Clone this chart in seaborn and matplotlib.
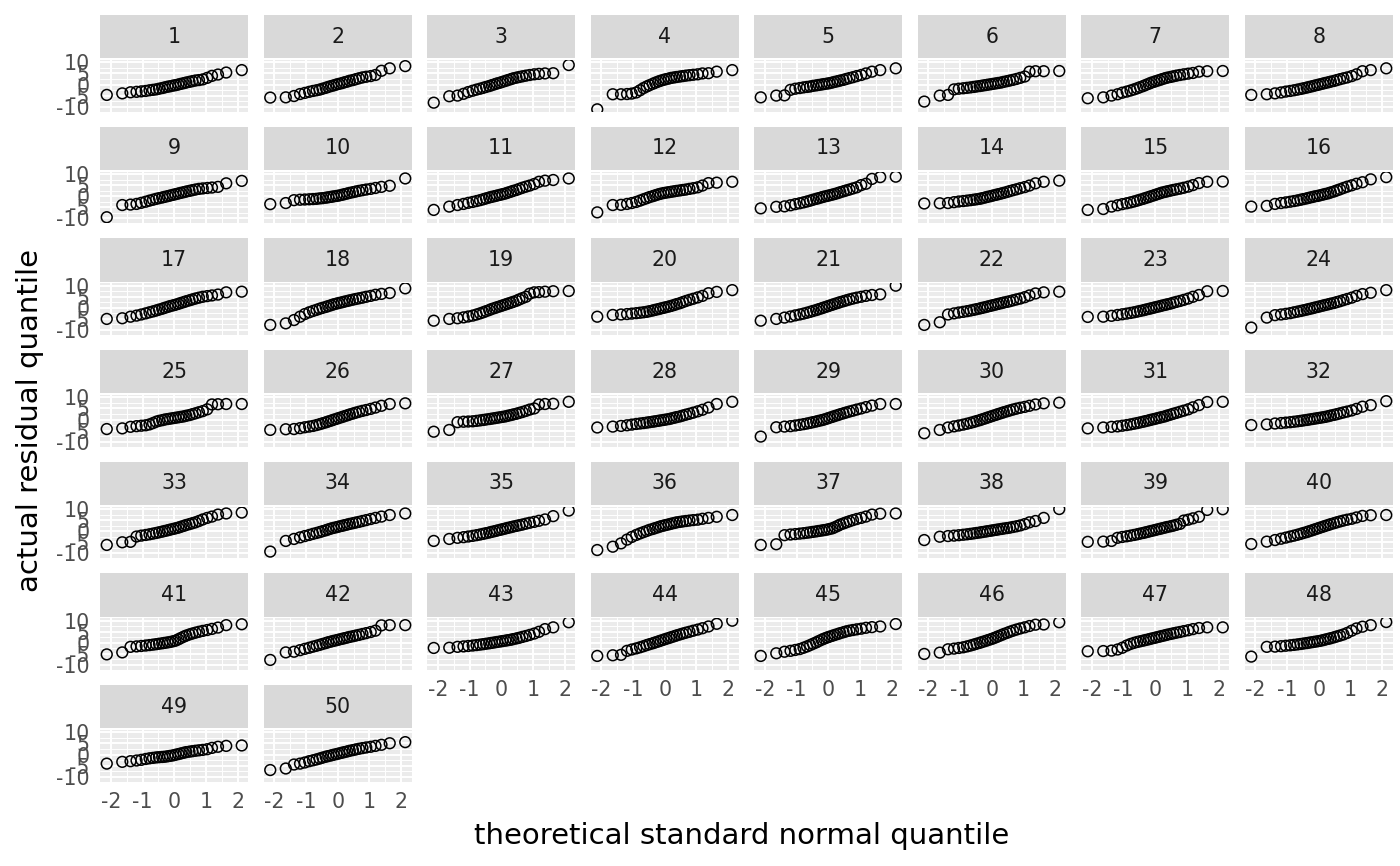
import matplotlib
matplotlib.use("Agg")
import matplotlib.pyplot as plt
from matplotlib.patches import Rectangle
from matplotlib.ticker import FixedLocator
import numpy as np
import pandas as pd
import seaborn as sns

# theoretical normal quantiles (30 points per panel)
theo_q = [-2.13, -1.64, -1.38, -1.19, -1.04, -0.90, -0.78, -0.67, -0.57, -0.48,
          -0.38, -0.30, -0.21, -0.13, -0.04, 0.04, 0.13, 0.21, 0.30, 0.38,
          0.48, 0.57, 0.67, 0.78, 0.90, 1.04, 1.19, 1.38, 1.64, 2.13]

# sorted residuals, one list per panel
r01 = [-4.7, -4.0, -3.5, -3.3, -3.1, -2.9, -2.6, -2.4, -2.2, -1.9, -1.6, -1.3, -1.0, -0.8, -0.5, -0.3, 0.0, 0.3, 0.6, 0.9, 1.2, 1.5, 1.8, 2.0, 2.3, 3.0, 3.9, 4.5, 5.4, 6.5]
r02 = [-5.9, -5.8, -5.2, -4.3, -3.8, -3.3, -2.9, -2.6, -2.3, -1.9, -1.5, -1.1, -0.7, -0.4, 0.0, 0.3, 0.6, 1.0, 1.3, 1.7, 2.0, 2.4, 2.8, 3.2, 3.5, 3.8, 4.3, 6.2, 7.3, 8.3]
r03 = [-8.2, -5.3, -5.0, -4.2, -3.4, -2.8, -2.3, -1.9, -1.5, -1.1, -0.7, -0.3, 0.1, 0.5, 0.8, 1.2, 1.6, 2.0, 2.4, 2.8, 3.1, 3.4, 3.7, 4.0, 4.3, 4.6, 4.8, 5.0, 5.1, 8.8]
r04 = [-11.2, -4.4, -4.4, -4.3, -4.1, -3.6, -2.6, -1.6, -0.9, -0.3, 0.3, 0.8, 1.3, 1.7, 2.1, 2.4, 2.7, 3.0, 3.2, 3.4, 3.6, 3.8, 4.0, 4.2, 4.4, 4.6, 5.0, 5.1, 5.8, 6.5]
r05 = [-5.8, -5.0, -4.9, -2.4, -1.9, -1.6, -1.3, -1.1, -0.9, -0.6, -0.4, -0.2, 0.0, 0.2, 0.4, 0.6, 0.9, 1.2, 1.5, 1.8, 2.1, 2.5, 2.9, 3.3, 3.8, 4.3, 5.0, 5.8, 6.5, 7.3]
r06 = [-7.7, -5.0, -4.7, -2.2, -1.9, -1.7, -1.5, -1.3, -1.1, -0.9, -0.7, -0.5, -0.3, -0.1, 0.1, 0.3, 0.5, 0.7, 0.9, 1.2, 1.5, 1.8, 2.1, 2.5, 3.0, 3.6, 5.8, 6.0, 6.0, 6.1]
r07 = [-6.2, -5.8, -5.0, -4.4, -3.7, -3.2, -2.7, -2.2, -1.7, -1.2, -0.7, -0.2, 0.3, 0.8, 1.2, 1.6, 2.0, 2.4, 2.8, 3.1, 3.4, 3.7, 4.0, 4.3, 4.6, 4.9, 5.2, 5.8, 6.0, 6.1]
r08 = [-4.7, -4.4, -4.0, -3.6, -3.2, -2.9, -2.6, -2.3, -2.0, -1.7, -1.4, -1.1, -0.8, -0.5, -0.2, 0.1, 0.4, 0.7, 1.0, 1.3, 1.6, 2.0, 2.4, 2.8, 3.2, 3.8, 4.6, 6.0, 6.5, 7.3]
r09 = [-9.5, -4.0, -3.8, -3.5, -3.0, -2.5, -2.0, -1.6, -1.2, -0.9, -0.6, -0.3, 0.0, 0.3, 0.6, 0.9, 1.2, 1.5, 1.8, 2.1, 2.4, 2.7, 3.0, 3.3, 3.5, 3.7, 3.9, 4.2, 5.8, 6.9]
r10 = [-3.6, -3.1, -1.8, -1.6, -1.5, -1.4, -1.3, -1.2, -1.0, -0.9, -0.7, -0.5, -0.3, -0.1, 0.1, 0.3, 0.6, 0.9, 1.2, 1.5, 1.8, 2.1, 2.4, 2.7, 3.0, 3.3, 3.7, 4.2, 4.7, 8.0]
r11 = [-6.2, -4.7, -4.0, -3.5, -3.0, -2.6, -2.2, -1.8, -1.4, -1.0, -0.6, -0.3, 0.0, 0.3, 0.6, 0.9, 1.2, 1.6, 2.0, 2.4, 2.8, 3.3, 3.8, 4.3, 4.8, 5.5, 6.5, 7.0, 7.3, 8.0]
r12 = [-7.3, -4.0, -3.9, -3.5, -3.1, -2.6, -2.0, -1.4, -0.9, -0.4, 0.0, 0.4, 0.8, 1.1, 1.4, 1.6, 1.8, 2.0, 2.2, 2.4, 2.6, 2.8, 3.0, 3.3, 3.6, 4.0, 4.8, 5.9, 6.1, 6.5]
r13 = [-5.5, -4.8, -4.6, -4.1, -3.6, -3.2, -2.8, -2.4, -2.0, -1.6, -1.2, -0.9, -0.5, -0.2, 0.1, 0.4, 0.7, 1.0, 1.4, 1.8, 2.2, 2.6, 3.0, 3.5, 4.0, 5.0, 5.6, 7.8, 8.6, 8.8]
r14 = [-3.3, -3.2, -3.1, -2.7, -2.4, -2.2, -2.0, -1.8, -1.6, -1.4, -1.2, -0.9, -0.6, -0.3, 0.0, 0.3, 0.6, 0.9, 1.2, 1.5, 1.9, 2.3, 2.7, 3.1, 3.6, 4.1, 4.8, 5.8, 6.5, 7.0]
r15 = [-6.2, -5.8, -4.7, -4.1, -3.6, -3.2, -2.8, -2.4, -2.0, -1.6, -1.2, -0.8, -0.4, 0.0, 0.4, 0.8, 1.2, 1.6, 1.9, 2.2, 2.5, 2.8, 3.1, 3.4, 3.8, 4.3, 5.0, 5.9, 6.5, 6.6]
r16 = [-4.7, -4.4, -3.5, -3.1, -2.8, -2.5, -2.2, -1.9, -1.6, -1.3, -1.0, -0.7, -0.4, -0.1, 0.1, 0.4, 0.7, 1.0, 1.3, 1.7, 2.1, 2.6, 3.1, 3.7, 4.3, 4.9, 5.6, 6.3, 7.6, 8.6]
r17 = [-5.0, -4.7, -4.0, -3.5, -3.0, -2.5, -2.0, -1.6, -1.2, -0.8, -0.4, 0.0, 0.4, 0.8, 1.1, 1.4, 1.8, 2.2, 2.6, 3.0, 3.4, 3.8, 4.2, 4.6, 5.0, 5.3, 5.6, 6.0, 7.0, 7.3]
r18 = [-7.7, -7.0, -5.5, -4.0, -2.8, -2.0, -1.4, -0.9, -0.4, 0.0, 0.4, 0.8, 1.2, 1.6, 1.9, 2.2, 2.5, 2.8, 3.1, 3.4, 3.7, 4.0, 4.3, 4.6, 5.0, 5.4, 5.9, 6.3, 6.7, 8.8]
r19 = [-5.8, -5.0, -4.7, -4.3, -3.9, -3.5, -3.0, -2.5, -2.0, -1.5, -1.0, -0.5, -0.1, 0.3, 0.7, 1.1, 1.5, 1.9, 2.3, 2.7, 3.2, 3.8, 4.4, 5.0, 6.4, 7.0, 7.1, 7.3, 7.5, 7.6]
r20 = [-4.0, -3.2, -3.0, -2.8, -2.6, -2.4, -2.2, -2.0, -1.8, -1.5, -1.2, -0.9, -0.6, -0.3, 0.0, 0.3, 0.6, 0.9, 1.3, 1.7, 2.1, 2.6, 3.1, 3.6, 4.1, 4.7, 5.4, 6.6, 7.2, 8.0]
r21 = [-5.8, -5.0, -4.4, -3.9, -3.4, -3.0, -2.6, -2.2, -1.8, -1.4, -1.0, -0.6, -0.2, 0.2, 0.6, 1.0, 1.4, 1.8, 2.2, 2.6, 3.0, 3.4, 3.8, 4.2, 4.6, 5.0, 5.4, 5.8, 6.1, 10.0]
r22 = [-7.7, -6.5, -3.0, -2.5, -2.1, -1.8, -1.5, -1.2, -0.9, -0.6, -0.3, 0.0, 0.3, 0.6, 0.9, 1.2, 1.5, 1.8, 2.1, 2.4, 2.7, 3.0, 3.4, 3.8, 4.2, 4.8, 5.6, 6.5, 7.0, 7.3]
r23 = [-4.1, -4.0, -3.6, -3.2, -2.9, -2.6, -2.3, -2.0, -1.7, -1.4, -1.1, -0.8, -0.5, -0.2, 0.1, 0.4, 0.7, 1.0, 1.3, 1.6, 1.9, 2.3, 2.7, 3.1, 3.6, 4.2, 5.0, 5.8, 7.5, 7.6]
r24 = [-8.9, -4.4, -3.3, -3.0, -2.7, -2.4, -2.0, -1.7, -1.4, -1.1, -0.8, -0.5, -0.2, 0.1, 0.4, 0.7, 1.0, 1.3, 1.6, 1.9, 2.2, 2.6, 3.0, 3.5, 4.0, 4.6, 5.4, 6.2, 6.8, 8.0]
r25 = [-4.3, -4.0, -3.3, -3.0, -2.8, -2.6, -2.2, -1.6, -1.0, -0.6, -0.3, 0.0, 0.2, 0.4, 0.6, 0.8, 1.0, 1.2, 1.4, 1.7, 2.0, 2.4, 2.8, 3.3, 3.8, 4.6, 6.8, 6.9, 7.0, 7.0]
r26 = [-4.7, -4.4, -4.3, -3.9, -3.5, -3.2, -2.9, -2.5, -2.1, -1.7, -1.3, -0.9, -0.5, -0.1, 0.3, 0.7, 1.1, 1.5, 1.9, 2.3, 2.7, 3.1, 3.5, 3.9, 4.3, 4.8, 5.4, 6.2, 7.0, 7.3]
r27 = [-5.5, -4.7, -1.2, -1.0, -0.9, -0.8, -0.6, -0.4, -0.2, 0.0, 0.2, 0.4, 0.6, 0.8, 1.0, 1.2, 1.4, 1.7, 2.0, 2.3, 2.6, 3.0, 3.4, 3.9, 4.5, 5.0, 6.8, 7.0, 7.1, 8.0]
r28 = [-3.6, -3.2, -2.9, -2.6, -2.3, -2.0, -1.8, -1.6, -1.4, -1.2, -1.0, -0.8, -0.6, -0.4, -0.2, 0.0, 0.2, 0.5, 0.8, 1.1, 1.4, 1.8, 2.2, 2.6, 3.1, 3.7, 4.4, 5.4, 7.0, 8.0]
r29 = [-7.7, -3.5, -3.2, -3.0, -2.7, -2.4, -2.1, -1.8, -1.5, -1.2, -0.9, -0.6, -0.3, 0.0, 0.4, 0.8, 1.2, 1.6, 2.0, 2.4, 2.8, 3.2, 3.6, 4.0, 4.5, 5.0, 5.6, 6.3, 7.0, 7.0]
r30 = [-6.2, -4.7, -3.6, -3.1, -2.7, -2.3, -1.9, -1.5, -1.1, -0.7, -0.3, 0.1, 0.5, 0.9, 1.3, 1.7, 2.1, 2.5, 2.9, 3.3, 3.7, 4.1, 4.5, 4.9, 5.3, 5.7, 6.2, 6.8, 7.3, 7.6]
r31 = [-4.0, -3.6, -3.3, -3.1, -2.8, -2.5, -2.2, -1.9, -1.6, -1.3, -1.0, -0.7, -0.4, -0.1, 0.2, 0.5, 0.8, 1.1, 1.4, 1.8, 2.2, 2.6, 3.0, 3.5, 4.0, 4.6, 5.5, 6.5, 7.9, 8.0]
r32 = [-2.5, -2.2, -1.8, -1.6, -1.4, -1.2, -1.0, -0.8, -0.6, -0.4, -0.2, 0.0, 0.2, 0.4, 0.6, 0.8, 1.0, 1.2, 1.5, 1.8, 2.1, 2.4, 2.8, 3.2, 3.6, 4.1, 4.8, 5.8, 6.5, 8.3]
r33 = [-6.2, -5.0, -4.8, -2.4, -2.0, -1.7, -1.4, -1.1, -0.8, -0.5, -0.2, 0.1, 0.4, 0.7, 1.0, 1.3, 1.6, 2.0, 2.4, 2.8, 3.2, 3.6, 4.0, 4.6, 5.3, 6.0, 6.6, 7.5, 8.0, 8.4]
r34 = [-9.2, -4.4, -3.5, -2.8, -2.2, -1.7, -1.2, -0.8, -0.4, 0.0, 0.4, 0.8, 1.2, 1.5, 1.8, 2.1, 2.4, 2.7, 3.0, 3.3, 3.6, 3.9, 4.2, 4.6, 5.0, 5.5, 6.0, 6.6, 7.3, 8.0]
r35 = [-4.4, -3.5, -3.0, -2.7, -2.4, -2.1, -1.8, -1.5, -1.2, -0.9, -0.6, -0.3, 0.0, 0.3, 0.6, 0.9, 1.2, 1.5, 1.8, 2.1, 2.4, 2.7, 3.0, 3.4, 3.8, 4.2, 4.7, 5.3, 6.8, 9.3]
r36 = [-8.5, -7.0, -5.5, -3.8, -2.6, -1.7, -1.0, -0.4, 0.1, 0.6, 1.0, 1.4, 1.8, 2.2, 2.5, 2.8, 3.1, 3.4, 3.7, 4.0, 4.2, 4.4, 4.6, 4.8, 5.0, 5.2, 5.6, 6.0, 6.5, 7.3]
r37 = [-6.2, -5.9, -1.8, -1.5, -1.3, -1.1, -0.9, -0.7, -0.5, -0.3, -0.1, 0.1, 0.3, 0.5, 0.7, 1.0, 1.3, 1.8, 2.4, 3.0, 3.5, 4.0, 4.5, 5.0, 5.5, 6.0, 6.6, 7.5, 7.9, 8.0]
r38 = [-4.0, -2.5, -2.2, -2.0, -1.8, -1.6, -1.4, -1.2, -1.0, -0.8, -0.6, -0.4, -0.2, 0.0, 0.2, 0.4, 0.6, 0.8, 1.0, 1.2, 1.4, 1.6, 1.9, 2.2, 2.6, 3.2, 4.0, 4.6, 6.0, 10.0]
r39 = [-4.8, -4.7, -4.4, -3.0, -2.6, -2.3, -2.0, -1.7, -1.4, -1.1, -0.8, -0.5, -0.2, 0.1, 0.4, 0.7, 1.0, 1.3, 1.6, 1.9, 2.2, 2.5, 2.9, 3.3, 4.8, 5.2, 5.8, 6.5, 9.6, 9.9]
r40 = [-5.8, -4.7, -4.0, -3.4, -2.9, -2.4, -2.0, -1.6, -1.2, -0.8, -0.4, 0.0, 0.4, 0.8, 1.2, 1.6, 2.0, 2.4, 2.8, 3.2, 3.6, 4.0, 4.4, 4.8, 5.2, 5.6, 6.2, 6.9, 7.2, 7.3]
r41 = [-5.2, -4.3, -1.8, -1.6, -1.4, -1.2, -1.0, -0.8, -0.6, -0.4, -0.2, 0.0, 0.2, 0.4, 0.7, 1.0, 1.6, 2.2, 2.8, 3.3, 3.8, 4.2, 4.6, 5.0, 5.4, 5.8, 6.3, 6.9, 8.0, 8.4]
r42 = [-7.7, -4.3, -4.0, -3.3, -2.7, -2.2, -1.7, -1.3, -0.9, -0.5, -0.1, 0.3, 0.6, 0.9, 1.2, 1.5, 1.8, 2.1, 2.4, 2.7, 3.0, 3.3, 3.6, 4.0, 4.4, 4.9, 5.5, 7.9, 8.0, 8.0]
r43 = [-2.3, -2.2, -1.8, -1.6, -1.4, -1.2, -1.0, -0.8, -0.6, -0.4, -0.2, 0.0, 0.2, 0.4, 0.6, 0.8, 1.0, 1.2, 1.4, 1.7, 2.0, 2.3, 2.7, 3.1, 3.6, 4.2, 5.0, 6.2, 7.0, 9.3]
r44 = [-5.9, -5.6, -5.4, -3.6, -3.0, -2.5, -2.0, -1.5, -1.0, -0.6, -0.2, 0.2, 0.6, 1.0, 1.4, 1.8, 2.2, 2.6, 3.0, 3.4, 3.8, 4.2, 4.6, 5.0, 5.5, 6.0, 6.6, 7.4, 8.6, 10.0]
r45 = [-5.9, -4.7, -4.0, -3.6, -3.2, -2.8, -2.2, -1.6, -1.0, -0.4, 0.2, 0.8, 1.4, 1.9, 2.4, 2.8, 3.2, 3.6, 4.0, 4.4, 4.8, 5.2, 5.5, 5.8, 6.1, 6.4, 6.8, 7.1, 7.4, 8.5]
r46 = [-5.0, -4.4, -2.9, -2.6, -2.3, -2.0, -1.6, -1.2, -0.8, -0.4, 0.0, 0.4, 0.8, 1.2, 1.6, 2.0, 2.5, 3.0, 3.5, 4.0, 4.5, 5.0, 5.5, 6.0, 6.5, 7.0, 7.6, 8.2, 8.3, 9.3]
r47 = [-3.8, -3.7, -3.5, -3.0, -2.2, -1.2, -0.5, 0.0, 0.4, 0.7, 1.0, 1.3, 1.6, 1.9, 2.2, 2.5, 2.8, 3.1, 3.4, 3.7, 4.0, 4.3, 4.6, 4.9, 5.3, 5.7, 6.2, 6.7, 7.0, 7.0]
r48 = [-6.2, -1.8, -1.7, -1.5, -1.3, -1.1, -0.9, -0.7, -0.5, -0.3, -0.1, 0.1, 0.3, 0.5, 0.7, 0.9, 1.2, 1.5, 1.8, 2.1, 2.5, 2.9, 3.3, 3.8, 4.5, 5.5, 6.5, 7.3, 8.0, 9.4]
r49 = [-4.1, -3.3, -3.0, -2.7, -2.4, -2.0, -1.7, -1.5, -1.3, -1.2, -1.1, -1.0, -0.8, -0.6, -0.4, -0.1, 0.2, 0.5, 0.8, 1.1, 1.3, 1.5, 1.7, 1.9, 2.1, 2.4, 3.0, 3.5, 3.9, 4.1]
r50 = [-7.0, -6.3, -4.5, -4.1, -3.6, -3.0, -2.6, -2.2, -1.8, -1.4, -1.0, -0.7, -0.4, -0.1, 0.2, 0.5, 0.8, 1.1, 1.4, 1.7, 2.0, 2.3, 2.6, 2.9, 3.2, 3.5, 3.9, 4.4, 5.1, 5.6]

panel_ids = list(range(1, 51))
residuals = [r01, r02, r03, r04, r05, r06, r07, r08, r09, r10,
             r11, r12, r13, r14, r15, r16, r17, r18, r19, r20,
             r21, r22, r23, r24, r25, r26, r27, r28, r29, r30,
             r31, r32, r33, r34, r35, r36, r37, r38, r39, r40,
             r41, r42, r43, r44, r45, r46, r47, r48, r49, r50]

y_breaks = [-10, -5, 0, 5, 10]
y_labels = ["-10", "-5", "0", "5", "10"]
x_breaks = [-2, -1, 0, 1, 2]
x_labels = ["-2", "-1", "0", "1", "2"]

for pid, vals in zip(panel_ids, residuals):
    if len(vals) != len(theo_q):
        raise ValueError(f"panel {pid} has {len(vals)} values")

rows = []
for pid, vals in zip(panel_ids, residuals):
    for q, v in zip(theo_q, vals):
        rows.append((pid, q, v))
df = pd.DataFrame(rows, columns=["panel", "theo", "resid"])

sns.set_theme(style="darkgrid", rc={
    "axes.facecolor": "#EBEBEB",
    "grid.color": "white",
    "grid.linewidth": 1.4,
})
plt.rcParams["font.family"] = ["DejaVu Sans"]
plt.rcParams["axes.unicode_minus"] = False

g = sns.FacetGrid(df, col="panel", col_wrap=8, height=1.2, aspect=2.8,
                  sharex=True, sharey=True, despine=False)
g.map_dataframe(sns.scatterplot, x="theo", y="resid", marker="o", s=60,
                facecolor="none", edgecolor="black", linewidth=1.1)
g.set_titles("")
g.set_axis_labels("", "")

fig = g.figure
fig.set_size_inches(14, 8.66)

# ggplot-like 5% expansion of the data range
xmin, xmax = df["theo"].min(), df["theo"].max()
ymin, ymax = df["resid"].min(), df["resid"].max()
xpad = (xmax - xmin) * 0.05
ypad = (ymax - ymin) * 0.05

strip_gap = 1.7 / 51.7
strip_h = 43.3 / 51.7
n_panels = len(panel_ids)

for i, ax in enumerate(g.axes.flat):
    ax.set_xlim(xmin - xpad, xmax + xpad)
    ax.set_ylim(ymin - ypad, ymax + ypad)
    ax.xaxis.set_major_locator(FixedLocator(x_breaks))
    ax.yaxis.set_major_locator(FixedLocator(y_breaks))
    ax.xaxis.set_minor_locator(FixedLocator([-1.5, -0.5, 0.5, 1.5]))
    ax.yaxis.set_minor_locator(FixedLocator([-7.5, -2.5, 2.5, 7.5]))
    ax.grid(which="major", color="white", linewidth=1.4)
    ax.grid(which="minor", color="white", linewidth=0.7)
    ax.set_axisbelow(True)
    for sp in ax.spines.values():
        sp.set_visible(False)
    ax.set_title("")

    is_left = (i % 8) == 0
    is_bottom = i >= n_panels - 8

    ax.tick_params(which="minor", length=0)
    ax.tick_params(axis="y", which="major", length=5 if is_left else 0,
                   width=1.4, color="#333333", labelsize=14.8,
                   labelcolor="#4D4D4D", pad=2.5, labelleft=is_left)
    ax.tick_params(axis="x", which="major", length=5 if is_bottom else 0,
                   width=1.4, color="#333333", labelsize=14.8,
                   labelcolor="#4D4D4D", pad=2.5, labelbottom=is_bottom)
    if is_left:
        ax.set_yticklabels(y_labels)
    if is_bottom:
        ax.set_xticklabels(x_labels)

    # facet strip
    ax.add_patch(Rectangle((0, 1 + strip_gap), 1, strip_h, transform=ax.transAxes,
                           facecolor="#D9D9D9", edgecolor="none", clip_on=False))
    ax.text(0.5, 1 + strip_gap + strip_h / 2, str(panel_ids[i]),
            transform=ax.transAxes, ha="center", va="center",
            fontsize=14.8, color="#1A1A1A")

fig.subplots_adjust(left=100 / 1400, right=1393 / 1400,
                    top=1 - 60 / 866, bottom=1 - 781.7 / 866,
                    wspace=15 / 148.4, hspace=60 / 51.67)

fig.text(742 / 1400, 1 - 836 / 866, "theoretical standard normal quantile",
         ha="center", va="center", fontsize=21, color="black")
fig.text(30 / 1400, 1 - 421 / 866, "actual residual quantile",
         ha="center", va="center", rotation=90, fontsize=21, color="black")

fig.savefig("out.png", dpi=100)
